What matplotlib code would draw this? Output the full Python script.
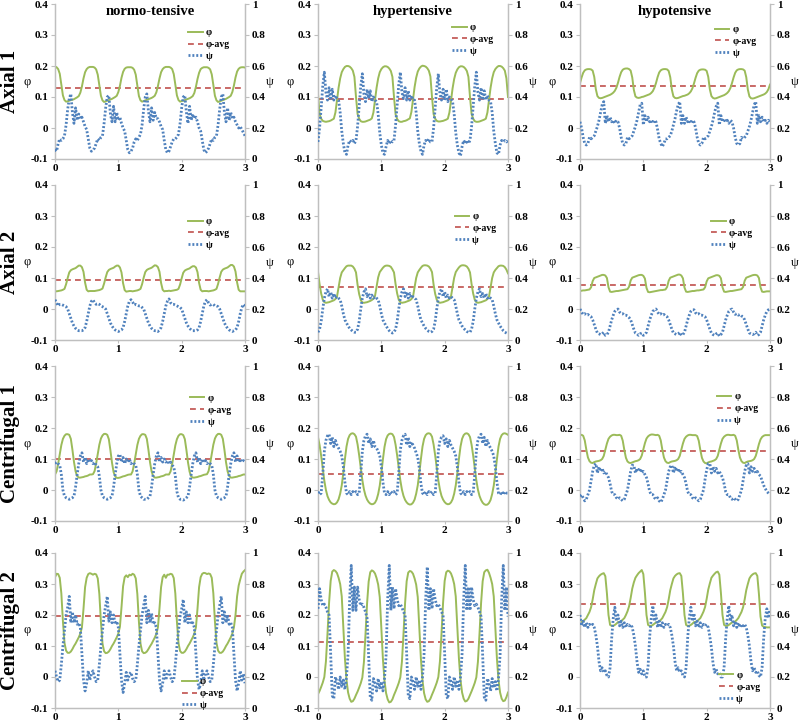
import numpy as np
import matplotlib
matplotlib.use('Agg')
import matplotlib.pyplot as plt

plt.rcParams['font.family'] = ['Liberation Serif', 'DejaVu Serif']
plt.rcParams['font.weight'] = 'bold'

# ---------------- data ----------------
TIME = np.linspace(0, 3, 121)
ROW_LABELS = ['Axial 1', 'Axial 2', 'Centrifugal 1', 'Centrifugal 2']
COL_LABELS = ['normo-tensive', 'hypertensive', 'hypotensive']
PHI_TICKS = [-0.1, 0, 0.1, 0.2, 0.3, 0.4]
PHI_TICK_LABELS = ['-0.1', '0', '0.1', '0.2', '0.3', '0.4']
PSI_TICKS = [0, 0.2, 0.4, 0.6, 0.8, 1.0]
PSI_TICK_LABELS = ['0', '0.2', '0.4', '0.6', '0.8', '1']
X_TICKS = [0, 1, 2, 3]
X_TICK_LABELS = ['0', '1', '2', '3']
LEGEND_LABELS = ['φ', 'φ-avg', 'ψ']

PHI_AVG = [[0.130, 0.094, 0.135],
           [0.093, 0.071, 0.078],
           [0.100, 0.053, 0.125],
           [0.196, 0.112, 0.234]]

A1N_PHI = [
    0.198, 0.196, 0.190, 0.175, 0.140, 0.105, 0.090, 0.085, 0.086, 0.088, 0.090, 0.091, 0.093, 0.096, 0.099, 0.103, 0.114, 0.134, 0.160, 0.180, 0.190, 0.195, 0.197, 0.197,
    0.197, 0.195, 0.189, 0.172, 0.138, 0.104, 0.089, 0.084, 0.086, 0.088, 0.090, 0.092, 0.094, 0.097, 0.100, 0.104, 0.116, 0.136, 0.162, 0.181, 0.191, 0.195, 0.196, 0.196,
    0.196, 0.194, 0.188, 0.172, 0.137, 0.103, 0.089, 0.085, 0.087, 0.089, 0.091, 0.093, 0.095, 0.097, 0.100, 0.104, 0.115, 0.135, 0.160, 0.180, 0.190, 0.195, 0.197, 0.197,
    0.197, 0.195, 0.190, 0.174, 0.140, 0.105, 0.090, 0.085, 0.087, 0.088, 0.090, 0.092, 0.094, 0.096, 0.099, 0.103, 0.113, 0.133, 0.158, 0.178, 0.190, 0.194, 0.196, 0.196,
    0.196, 0.194, 0.189, 0.173, 0.139, 0.104, 0.089, 0.084, 0.086, 0.088, 0.090, 0.092, 0.094, 0.097, 0.100, 0.104, 0.116, 0.137, 0.163, 0.182, 0.191, 0.195, 0.196, 0.196,
    0.195]
A1N_PSI = [
    0.06, 0.05, 0.10, 0.13, 0.12, 0.13, 0.15, 0.22, 0.32, 0.39, 0.42, 0.30, 0.23, 0.33, 0.25, 0.29, 0.26, 0.27, 0.24, 0.21, 0.19, 0.13, 0.07, 0.05,
    0.06, 0.07, 0.10, 0.13, 0.12, 0.14, 0.15, 0.23, 0.33, 0.40, 0.41, 0.29, 0.24, 0.34, 0.24, 0.30, 0.25, 0.27, 0.23, 0.20, 0.18, 0.12, 0.06, 0.04,
    0.05, 0.07, 0.11, 0.13, 0.12, 0.14, 0.16, 0.22, 0.32, 0.40, 0.42, 0.31, 0.24, 0.33, 0.25, 0.30, 0.26, 0.26, 0.24, 0.21, 0.19, 0.12, 0.06, 0.04,
    0.05, 0.08, 0.11, 0.13, 0.13, 0.14, 0.16, 0.23, 0.33, 0.40, 0.41, 0.30, 0.23, 0.34, 0.25, 0.29, 0.26, 0.27, 0.24, 0.20, 0.18, 0.12, 0.06, 0.04,
    0.05, 0.07, 0.10, 0.13, 0.12, 0.14, 0.15, 0.22, 0.32, 0.40, 0.42, 0.30, 0.24, 0.33, 0.25, 0.30, 0.26, 0.27, 0.24, 0.22, 0.20, 0.21, 0.19, 0.17,
    0.15]

A1H_PHI = [
    0.110, 0.045, 0.030, 0.023, 0.021, 0.020, 0.021, 0.022, 0.024, 0.027, 0.030, 0.050, 0.090, 0.130, 0.160, 0.180, 0.190, 0.197, 0.200, 0.200, 0.198, 0.193, 0.185, 0.165,
    0.100, 0.045, 0.030, 0.022, 0.020, 0.020, 0.021, 0.023, 0.025, 0.027, 0.031, 0.050, 0.090, 0.130, 0.160, 0.180, 0.190, 0.196, 0.199, 0.199, 0.197, 0.192, 0.184, 0.165,
    0.100, 0.044, 0.029, 0.022, 0.020, 0.020, 0.022, 0.023, 0.025, 0.028, 0.031, 0.052, 0.092, 0.132, 0.162, 0.182, 0.192, 0.198, 0.201, 0.200, 0.198, 0.193, 0.185, 0.166,
    0.100, 0.045, 0.030, 0.023, 0.021, 0.021, 0.022, 0.023, 0.025, 0.027, 0.030, 0.050, 0.088, 0.128, 0.158, 0.178, 0.189, 0.196, 0.199, 0.199, 0.197, 0.192, 0.184, 0.165,
    0.100, 0.045, 0.030, 0.022, 0.020, 0.020, 0.021, 0.023, 0.025, 0.027, 0.030, 0.050, 0.090, 0.130, 0.160, 0.180, 0.190, 0.196, 0.200, 0.200, 0.198, 0.193, 0.185, 0.160,
    0.100]
A1H_PSI = [
    0.11, 0.20, 0.33, 0.47, 0.56, 0.43, 0.38, 0.46, 0.38, 0.45, 0.38, 0.41, 0.39, 0.38, 0.30, 0.18, 0.10, 0.04, 0.03, 0.09, 0.12, 0.11, 0.12, 0.10,
    0.12, 0.21, 0.34, 0.47, 0.55, 0.42, 0.37, 0.45, 0.39, 0.44, 0.37, 0.40, 0.38, 0.37, 0.29, 0.17, 0.09, 0.04, 0.03, 0.08, 0.12, 0.10, 0.12, 0.11,
    0.12, 0.22, 0.35, 0.48, 0.56, 0.43, 0.39, 0.46, 0.38, 0.44, 0.38, 0.41, 0.38, 0.38, 0.30, 0.18, 0.10, 0.05, 0.03, 0.09, 0.12, 0.11, 0.13, 0.11,
    0.11, 0.20, 0.33, 0.46, 0.55, 0.42, 0.38, 0.45, 0.38, 0.45, 0.37, 0.40, 0.39, 0.37, 0.29, 0.17, 0.09, 0.04, 0.02, 0.08, 0.12, 0.10, 0.12, 0.10,
    0.12, 0.21, 0.34, 0.47, 0.56, 0.43, 0.38, 0.46, 0.38, 0.44, 0.38, 0.41, 0.38, 0.37, 0.30, 0.18, 0.10, 0.04, 0.03, 0.09, 0.12, 0.11, 0.12, 0.11,
    0.12]

A1P_PHI = [
    0.145, 0.163, 0.178, 0.186, 0.189, 0.190, 0.190, 0.189, 0.185, 0.165, 0.125, 0.103, 0.097, 0.096, 0.097, 0.099, 0.101, 0.103, 0.105, 0.107, 0.110, 0.114, 0.120, 0.130,
    0.146, 0.165, 0.180, 0.188, 0.191, 0.192, 0.192, 0.190, 0.185, 0.163, 0.123, 0.102, 0.098, 0.097, 0.098, 0.100, 0.101, 0.103, 0.105, 0.107, 0.109, 0.113, 0.119, 0.130,
    0.145, 0.164, 0.179, 0.186, 0.189, 0.190, 0.190, 0.189, 0.184, 0.164, 0.124, 0.102, 0.097, 0.096, 0.097, 0.099, 0.101, 0.103, 0.104, 0.106, 0.108, 0.112, 0.118, 0.128,
    0.144, 0.162, 0.177, 0.185, 0.188, 0.189, 0.189, 0.188, 0.184, 0.165, 0.125, 0.103, 0.097, 0.095, 0.096, 0.098, 0.100, 0.102, 0.104, 0.106, 0.109, 0.113, 0.119, 0.129,
    0.145, 0.163, 0.178, 0.186, 0.189, 0.190, 0.190, 0.189, 0.185, 0.164, 0.124, 0.102, 0.096, 0.095, 0.096, 0.098, 0.100, 0.102, 0.104, 0.106, 0.108, 0.111, 0.116, 0.125,
    0.140]
A1P_PSI = [
    0.24, 0.20, 0.14, 0.10, 0.09, 0.10, 0.14, 0.13, 0.14, 0.15, 0.18, 0.21, 0.25, 0.30, 0.35, 0.37, 0.23, 0.28, 0.24, 0.27, 0.24, 0.25, 0.23, 0.25,
    0.24, 0.20, 0.14, 0.10, 0.09, 0.10, 0.14, 0.13, 0.14, 0.15, 0.18, 0.21, 0.25, 0.30, 0.35, 0.36, 0.22, 0.28, 0.24, 0.27, 0.24, 0.25, 0.23, 0.25,
    0.24, 0.19, 0.13, 0.10, 0.08, 0.10, 0.13, 0.13, 0.14, 0.15, 0.18, 0.22, 0.26, 0.31, 0.35, 0.37, 0.23, 0.28, 0.23, 0.27, 0.24, 0.25, 0.23, 0.25,
    0.24, 0.20, 0.14, 0.10, 0.09, 0.10, 0.14, 0.13, 0.14, 0.15, 0.18, 0.21, 0.25, 0.30, 0.34, 0.36, 0.22, 0.28, 0.24, 0.26, 0.24, 0.25, 0.23, 0.25,
    0.24, 0.20, 0.14, 0.10, 0.09, 0.10, 0.14, 0.13, 0.14, 0.15, 0.18, 0.21, 0.25, 0.30, 0.35, 0.37, 0.23, 0.28, 0.24, 0.27, 0.24, 0.25, 0.23, 0.25,
    0.24]

A2N_PHI = [
    0.058, 0.057, 0.058, 0.059, 0.060, 0.062, 0.065, 0.080, 0.100, 0.118, 0.125, 0.128, 0.130, 0.132, 0.136, 0.140, 0.140, 0.135, 0.120, 0.085, 0.062, 0.057, 0.058, 0.058,
    0.058, 0.058, 0.059, 0.060, 0.061, 0.063, 0.066, 0.082, 0.102, 0.119, 0.126, 0.129, 0.131, 0.133, 0.137, 0.140, 0.140, 0.134, 0.118, 0.083, 0.061, 0.056, 0.057, 0.058,
    0.058, 0.057, 0.058, 0.059, 0.060, 0.062, 0.065, 0.080, 0.101, 0.119, 0.126, 0.129, 0.131, 0.133, 0.137, 0.141, 0.140, 0.135, 0.120, 0.084, 0.062, 0.057, 0.058, 0.058,
    0.059, 0.058, 0.059, 0.060, 0.061, 0.062, 0.065, 0.079, 0.099, 0.117, 0.124, 0.127, 0.129, 0.131, 0.135, 0.138, 0.138, 0.134, 0.119, 0.084, 0.062, 0.057, 0.058, 0.058,
    0.058, 0.057, 0.058, 0.059, 0.060, 0.062, 0.065, 0.081, 0.102, 0.120, 0.127, 0.130, 0.132, 0.134, 0.138, 0.142, 0.142, 0.137, 0.121, 0.086, 0.062, 0.057, 0.057, 0.057,
    0.057]
A2N_PSI = [
    0.26, 0.24, 0.22, 0.23, 0.23, 0.225, 0.22, 0.215, 0.20, 0.17, 0.14, 0.11, 0.09, 0.075, 0.065, 0.06, 0.06, 0.06, 0.065, 0.08, 0.12, 0.17, 0.22, 0.25,
    0.26, 0.24, 0.23, 0.235, 0.23, 0.22, 0.215, 0.21, 0.20, 0.17, 0.14, 0.11, 0.09, 0.075, 0.065, 0.06, 0.055, 0.06, 0.065, 0.08, 0.12, 0.17, 0.22, 0.25,
    0.26, 0.245, 0.225, 0.23, 0.225, 0.22, 0.22, 0.21, 0.20, 0.17, 0.14, 0.11, 0.09, 0.075, 0.065, 0.06, 0.06, 0.055, 0.065, 0.08, 0.12, 0.17, 0.22, 0.25,
    0.265, 0.24, 0.23, 0.23, 0.225, 0.22, 0.215, 0.21, 0.20, 0.17, 0.14, 0.11, 0.09, 0.075, 0.065, 0.06, 0.06, 0.06, 0.065, 0.08, 0.12, 0.17, 0.22, 0.25,
    0.26, 0.24, 0.225, 0.23, 0.23, 0.22, 0.22, 0.215, 0.20, 0.17, 0.14, 0.11, 0.09, 0.075, 0.065, 0.06, 0.055, 0.06, 0.065, 0.08, 0.12, 0.17, 0.21, 0.23,
    0.22]

A2H_PHI = [
    0.120, 0.080, 0.050, 0.030, 0.022, 0.020, 0.021, 0.022, 0.024, 0.026, 0.028, 0.032, 0.040, 0.070, 0.100, 0.118, 0.125, 0.132, 0.138, 0.140, 0.140, 0.140, 0.137, 0.130,
    0.118, 0.078, 0.048, 0.029, 0.021, 0.020, 0.021, 0.022, 0.024, 0.026, 0.029, 0.033, 0.042, 0.072, 0.102, 0.119, 0.126, 0.133, 0.138, 0.140, 0.140, 0.139, 0.136, 0.128,
    0.118, 0.080, 0.050, 0.030, 0.022, 0.020, 0.021, 0.022, 0.024, 0.026, 0.028, 0.032, 0.040, 0.070, 0.100, 0.118, 0.126, 0.133, 0.139, 0.141, 0.141, 0.140, 0.137, 0.130,
    0.119, 0.079, 0.049, 0.030, 0.022, 0.020, 0.021, 0.022, 0.024, 0.026, 0.028, 0.032, 0.041, 0.071, 0.101, 0.119, 0.127, 0.134, 0.139, 0.141, 0.141, 0.140, 0.137, 0.130,
    0.118, 0.080, 0.050, 0.030, 0.022, 0.020, 0.021, 0.022, 0.024, 0.026, 0.028, 0.032, 0.040, 0.070, 0.100, 0.118, 0.126, 0.132, 0.138, 0.140, 0.140, 0.139, 0.135, 0.127,
    0.115]
A2H_PSI = [
    0.05, 0.07, 0.12, 0.20, 0.27, 0.31, 0.33, 0.28, 0.31, 0.27, 0.30, 0.27, 0.28, 0.27, 0.26, 0.22, 0.17, 0.13, 0.11, 0.09, 0.075, 0.065, 0.055, 0.05,
    0.05, 0.07, 0.12, 0.20, 0.27, 0.31, 0.33, 0.28, 0.30, 0.27, 0.29, 0.27, 0.28, 0.27, 0.26, 0.22, 0.17, 0.13, 0.11, 0.09, 0.075, 0.06, 0.05, 0.045,
    0.05, 0.07, 0.12, 0.20, 0.27, 0.31, 0.33, 0.28, 0.31, 0.27, 0.30, 0.27, 0.28, 0.27, 0.26, 0.22, 0.17, 0.13, 0.11, 0.09, 0.075, 0.065, 0.055, 0.05,
    0.055, 0.07, 0.12, 0.20, 0.27, 0.31, 0.33, 0.28, 0.31, 0.27, 0.29, 0.27, 0.28, 0.27, 0.26, 0.22, 0.17, 0.13, 0.11, 0.09, 0.075, 0.065, 0.055, 0.05,
    0.05, 0.07, 0.12, 0.20, 0.27, 0.31, 0.33, 0.28, 0.30, 0.27, 0.30, 0.27, 0.28, 0.27, 0.26, 0.22, 0.17, 0.13, 0.11, 0.09, 0.075, 0.06, 0.05, 0.045,
    0.04]

A2P_PHI = [
    0.058, 0.059, 0.060, 0.060, 0.061, 0.062, 0.063, 0.070, 0.090, 0.100, 0.102, 0.104, 0.106, 0.108, 0.110, 0.110, 0.108, 0.100, 0.070, 0.056, 0.055, 0.056, 0.057, 0.058,
    0.058, 0.059, 0.060, 0.061, 0.062, 0.063, 0.064, 0.072, 0.092, 0.101, 0.103, 0.105, 0.107, 0.109, 0.110, 0.110, 0.107, 0.098, 0.068, 0.055, 0.054, 0.055, 0.056, 0.057,
    0.058, 0.059, 0.060, 0.061, 0.061, 0.062, 0.063, 0.071, 0.091, 0.101, 0.103, 0.105, 0.107, 0.109, 0.111, 0.111, 0.108, 0.099, 0.069, 0.056, 0.055, 0.056, 0.057, 0.058,
    0.058, 0.059, 0.060, 0.060, 0.061, 0.062, 0.063, 0.070, 0.089, 0.099, 0.101, 0.103, 0.105, 0.107, 0.109, 0.109, 0.107, 0.099, 0.070, 0.056, 0.055, 0.056, 0.057, 0.058,
    0.058, 0.059, 0.060, 0.061, 0.062, 0.063, 0.064, 0.071, 0.091, 0.101, 0.103, 0.105, 0.107, 0.109, 0.110, 0.110, 0.108, 0.100, 0.070, 0.056, 0.055, 0.056, 0.057, 0.057,
    0.057]
A2P_PSI = [
    0.20, 0.18, 0.165, 0.17, 0.16, 0.165, 0.155, 0.15, 0.13, 0.10, 0.07, 0.045, 0.04, 0.035, 0.04, 0.05, 0.03, 0.035, 0.05, 0.09, 0.13, 0.16, 0.185, 0.195,
    0.20, 0.18, 0.17, 0.17, 0.16, 0.16, 0.155, 0.145, 0.13, 0.10, 0.07, 0.045, 0.04, 0.03, 0.04, 0.045, 0.03, 0.035, 0.05, 0.09, 0.13, 0.16, 0.185, 0.195,
    0.20, 0.18, 0.165, 0.17, 0.16, 0.165, 0.155, 0.15, 0.13, 0.10, 0.07, 0.045, 0.04, 0.035, 0.04, 0.05, 0.03, 0.035, 0.05, 0.09, 0.13, 0.16, 0.185, 0.195,
    0.195, 0.175, 0.165, 0.17, 0.16, 0.16, 0.155, 0.15, 0.13, 0.10, 0.07, 0.045, 0.035, 0.03, 0.04, 0.045, 0.025, 0.035, 0.05, 0.09, 0.13, 0.16, 0.185, 0.195,
    0.20, 0.18, 0.165, 0.17, 0.16, 0.165, 0.155, 0.15, 0.13, 0.10, 0.07, 0.045, 0.04, 0.035, 0.04, 0.05, 0.03, 0.035, 0.05, 0.09, 0.13, 0.16, 0.185, 0.195,
    0.20]

C1N_PHI = [
    0.050, 0.060, 0.085, 0.115, 0.145, 0.165, 0.175, 0.180, 0.180, 0.178, 0.165, 0.130, 0.090, 0.060, 0.045, 0.040, 0.040, 0.041, 0.042, 0.044, 0.045, 0.047, 0.050, 0.050,
    0.051, 0.061, 0.086, 0.116, 0.146, 0.166, 0.176, 0.181, 0.181, 0.178, 0.164, 0.128, 0.088, 0.058, 0.044, 0.039, 0.039, 0.040, 0.042, 0.044, 0.045, 0.047, 0.049, 0.050,
    0.050, 0.060, 0.085, 0.115, 0.145, 0.165, 0.175, 0.180, 0.180, 0.178, 0.165, 0.130, 0.090, 0.060, 0.045, 0.040, 0.040, 0.041, 0.042, 0.044, 0.045, 0.047, 0.050, 0.050,
    0.050, 0.060, 0.084, 0.114, 0.144, 0.164, 0.175, 0.180, 0.180, 0.177, 0.164, 0.129, 0.089, 0.059, 0.044, 0.040, 0.040, 0.041, 0.042, 0.044, 0.045, 0.047, 0.049, 0.050,
    0.051, 0.061, 0.086, 0.116, 0.146, 0.166, 0.176, 0.181, 0.181, 0.178, 0.165, 0.130, 0.090, 0.060, 0.045, 0.040, 0.040, 0.041, 0.042, 0.043, 0.045, 0.046, 0.048, 0.050,
    0.050]
C1N_PSI = [
    0.37, 0.38, 0.37, 0.36, 0.30, 0.20, 0.16, 0.15, 0.145, 0.14, 0.145, 0.15, 0.16, 0.22, 0.30, 0.37, 0.42, 0.44, 0.38, 0.41, 0.37, 0.40, 0.38, 0.39,
    0.37, 0.38, 0.36, 0.35, 0.29, 0.20, 0.16, 0.15, 0.145, 0.14, 0.145, 0.15, 0.16, 0.22, 0.30, 0.37, 0.42, 0.43, 0.38, 0.41, 0.37, 0.40, 0.38, 0.40,
    0.37, 0.38, 0.37, 0.36, 0.30, 0.20, 0.16, 0.15, 0.14, 0.14, 0.14, 0.15, 0.16, 0.22, 0.30, 0.37, 0.42, 0.44, 0.38, 0.41, 0.38, 0.40, 0.38, 0.39,
    0.37, 0.38, 0.36, 0.35, 0.29, 0.19, 0.15, 0.14, 0.14, 0.135, 0.14, 0.15, 0.16, 0.22, 0.30, 0.37, 0.42, 0.44, 0.38, 0.41, 0.37, 0.40, 0.38, 0.39,
    0.37, 0.38, 0.37, 0.36, 0.30, 0.20, 0.16, 0.15, 0.145, 0.14, 0.145, 0.15, 0.16, 0.22, 0.30, 0.37, 0.42, 0.44, 0.38, 0.42, 0.38, 0.40, 0.38, 0.39,
    0.38]

C1H_PHI = [
    0.170, 0.145, 0.110, 0.070, 0.030, 0.000, -0.020, -0.032, -0.040, -0.044, -0.046, -0.045, -0.040, -0.030, -0.012, 0.015, 0.055, 0.100, 0.140, 0.165, 0.177, 0.182, 0.183, 0.180,
    0.172, 0.147, 0.112, 0.072, 0.032, 0.002, -0.018, -0.031, -0.039, -0.044, -0.046, -0.045, -0.041, -0.031, -0.013, 0.014, 0.054, 0.099, 0.139, 0.164, 0.176, 0.181, 0.182, 0.180,
    0.171, 0.146, 0.111, 0.071, 0.031, 0.001, -0.019, -0.032, -0.040, -0.045, -0.047, -0.046, -0.041, -0.031, -0.012, 0.015, 0.055, 0.100, 0.140, 0.165, 0.177, 0.182, 0.183, 0.181,
    0.172, 0.147, 0.112, 0.071, 0.031, 0.001, -0.019, -0.031, -0.039, -0.044, -0.046, -0.045, -0.040, -0.030, -0.012, 0.015, 0.055, 0.100, 0.140, 0.165, 0.177, 0.182, 0.183, 0.180,
    0.171, 0.146, 0.111, 0.071, 0.031, 0.001, -0.019, -0.032, -0.041, -0.046, -0.048, -0.047, -0.042, -0.032, -0.013, 0.014, 0.054, 0.099, 0.140, 0.165, 0.177, 0.182, 0.183, 0.181,
    0.178]
C1H_PSI = [
    0.19, 0.17, 0.18, 0.30, 0.45, 0.52, 0.55, 0.56, 0.50, 0.54, 0.48, 0.52, 0.49, 0.47, 0.45, 0.42, 0.35, 0.25, 0.18, 0.17, 0.19, 0.17, 0.19, 0.18,
    0.19, 0.17, 0.18, 0.30, 0.45, 0.52, 0.55, 0.56, 0.50, 0.53, 0.48, 0.52, 0.48, 0.47, 0.45, 0.42, 0.35, 0.25, 0.18, 0.17, 0.19, 0.17, 0.19, 0.18,
    0.19, 0.17, 0.18, 0.31, 0.46, 0.52, 0.55, 0.56, 0.49, 0.54, 0.48, 0.51, 0.49, 0.47, 0.44, 0.41, 0.34, 0.24, 0.18, 0.17, 0.19, 0.17, 0.19, 0.18,
    0.19, 0.17, 0.18, 0.30, 0.45, 0.52, 0.54, 0.55, 0.50, 0.53, 0.48, 0.52, 0.49, 0.47, 0.45, 0.42, 0.35, 0.25, 0.18, 0.17, 0.19, 0.17, 0.19, 0.18,
    0.19, 0.17, 0.18, 0.30, 0.45, 0.52, 0.55, 0.56, 0.50, 0.54, 0.48, 0.52, 0.49, 0.47, 0.45, 0.42, 0.35, 0.25, 0.18, 0.17, 0.19, 0.17, 0.19, 0.18,
    0.18]

C1P_PHI = [
    0.177, 0.178, 0.175, 0.160, 0.130, 0.105, 0.093, 0.088, 0.087, 0.090, 0.092, 0.093, 0.094, 0.096, 0.100, 0.110, 0.130, 0.150, 0.165, 0.172, 0.176, 0.178, 0.178, 0.177,
    0.177, 0.178, 0.175, 0.159, 0.129, 0.104, 0.092, 0.088, 0.087, 0.089, 0.091, 0.093, 0.094, 0.096, 0.100, 0.111, 0.131, 0.151, 0.166, 0.173, 0.177, 0.179, 0.179, 0.178,
    0.177, 0.178, 0.175, 0.160, 0.130, 0.105, 0.093, 0.088, 0.087, 0.090, 0.092, 0.093, 0.094, 0.096, 0.100, 0.110, 0.130, 0.150, 0.165, 0.172, 0.176, 0.178, 0.178, 0.177,
    0.177, 0.177, 0.174, 0.159, 0.129, 0.104, 0.092, 0.087, 0.086, 0.089, 0.091, 0.092, 0.094, 0.096, 0.100, 0.110, 0.130, 0.150, 0.165, 0.172, 0.176, 0.178, 0.178, 0.177,
    0.177, 0.178, 0.175, 0.160, 0.130, 0.105, 0.093, 0.088, 0.087, 0.090, 0.092, 0.093, 0.094, 0.096, 0.100, 0.110, 0.128, 0.148, 0.163, 0.171, 0.175, 0.177, 0.177, 0.177,
    0.177]
C1P_PSI = [
    0.16, 0.17, 0.15, 0.13, 0.14, 0.17, 0.20, 0.26, 0.32, 0.36, 0.37, 0.31, 0.35, 0.32, 0.34, 0.31, 0.32, 0.30, 0.28, 0.24, 0.19, 0.17, 0.17, 0.15,
    0.14, 0.15, 0.14, 0.13, 0.14, 0.17, 0.20, 0.26, 0.32, 0.36, 0.36, 0.31, 0.34, 0.32, 0.34, 0.31, 0.32, 0.30, 0.28, 0.24, 0.19, 0.17, 0.17, 0.15,
    0.14, 0.15, 0.13, 0.12, 0.14, 0.17, 0.20, 0.26, 0.32, 0.35, 0.36, 0.31, 0.35, 0.32, 0.34, 0.31, 0.32, 0.30, 0.28, 0.24, 0.19, 0.17, 0.17, 0.15,
    0.14, 0.15, 0.14, 0.13, 0.14, 0.17, 0.20, 0.27, 0.33, 0.37, 0.37, 0.31, 0.35, 0.32, 0.34, 0.31, 0.32, 0.30, 0.28, 0.24, 0.19, 0.17, 0.17, 0.15,
    0.14, 0.15, 0.14, 0.13, 0.14, 0.17, 0.20, 0.26, 0.32, 0.36, 0.37, 0.31, 0.35, 0.32, 0.34, 0.31, 0.32, 0.30, 0.29, 0.26, 0.23, 0.21, 0.19, 0.18,
    0.17]

C2N_PHI = [
    0.322, 0.333, 0.332, 0.320, 0.270, 0.180, 0.110, 0.085, 0.078, 0.078, 0.082, 0.090, 0.100, 0.108, 0.118, 0.128, 0.140, 0.160, 0.220, 0.290, 0.320, 0.332, 0.335, 0.333,
    0.330, 0.333, 0.331, 0.318, 0.268, 0.178, 0.108, 0.083, 0.077, 0.078, 0.082, 0.090, 0.100, 0.108, 0.118, 0.128, 0.140, 0.162, 0.225, 0.293, 0.322, 0.328, 0.322, 0.330,
    0.328, 0.333, 0.330, 0.318, 0.268, 0.178, 0.108, 0.083, 0.077, 0.078, 0.082, 0.090, 0.099, 0.107, 0.117, 0.127, 0.139, 0.160, 0.222, 0.290, 0.322, 0.330, 0.320, 0.330,
    0.330, 0.333, 0.331, 0.319, 0.269, 0.179, 0.109, 0.084, 0.078, 0.078, 0.082, 0.090, 0.100, 0.108, 0.118, 0.128, 0.140, 0.160, 0.220, 0.290, 0.322, 0.333, 0.336, 0.335,
    0.332, 0.334, 0.332, 0.320, 0.270, 0.180, 0.110, 0.085, 0.078, 0.078, 0.082, 0.090, 0.100, 0.108, 0.118, 0.128, 0.140, 0.160, 0.200, 0.260, 0.295, 0.315, 0.333, 0.340,
    0.345]
C2N_PSI = [
    0.24, 0.20, 0.17, 0.18, 0.28, 0.40, 0.50, 0.60, 0.65, 0.72, 0.55, 0.62, 0.55, 0.60, 0.54, 0.55, 0.52, 0.35, 0.18, 0.11, 0.16, 0.24, 0.18, 0.22,
    0.24, 0.20, 0.17, 0.18, 0.28, 0.40, 0.50, 0.60, 0.66, 0.72, 0.56, 0.62, 0.55, 0.60, 0.54, 0.56, 0.52, 0.35, 0.18, 0.10, 0.16, 0.23, 0.18, 0.22,
    0.23, 0.19, 0.17, 0.18, 0.28, 0.40, 0.50, 0.60, 0.66, 0.72, 0.55, 0.63, 0.55, 0.61, 0.54, 0.55, 0.52, 0.35, 0.18, 0.11, 0.16, 0.24, 0.18, 0.22,
    0.24, 0.20, 0.17, 0.18, 0.28, 0.40, 0.50, 0.59, 0.64, 0.70, 0.55, 0.62, 0.55, 0.60, 0.54, 0.55, 0.52, 0.35, 0.18, 0.12, 0.16, 0.24, 0.18, 0.22,
    0.24, 0.20, 0.17, 0.18, 0.28, 0.40, 0.50, 0.60, 0.66, 0.72, 0.55, 0.62, 0.55, 0.60, 0.54, 0.55, 0.52, 0.35, 0.18, 0.11, 0.16, 0.24, 0.18, 0.22,
    0.16]

C2H_PHI = [
    -0.055, -0.045, -0.032, -0.018, 0.000, 0.050, 0.140, 0.240, 0.310, 0.340, 0.345, 0.342, 0.335, 0.320, 0.300, 0.260, 0.160, 0.060, -0.010, -0.050, -0.070, -0.080, -0.078, -0.070,
    -0.058, -0.047, -0.034, -0.020, -0.002, 0.048, 0.138, 0.238, 0.308, 0.338, 0.344, 0.341, 0.334, 0.319, 0.298, 0.258, 0.158, 0.058, -0.012, -0.052, -0.072, -0.082, -0.080, -0.072,
    -0.058, -0.046, -0.033, -0.019, -0.001, 0.049, 0.139, 0.239, 0.309, 0.337, 0.342, 0.340, 0.333, 0.318, 0.298, 0.258, 0.158, 0.058, -0.012, -0.052, -0.072, -0.080, -0.078, -0.070,
    -0.057, -0.045, -0.032, -0.018, 0.000, 0.050, 0.140, 0.240, 0.310, 0.338, 0.343, 0.341, 0.334, 0.320, 0.300, 0.260, 0.160, 0.060, -0.010, -0.050, -0.070, -0.079, -0.077, -0.070,
    -0.058, -0.046, -0.033, -0.019, -0.001, 0.049, 0.139, 0.239, 0.309, 0.338, 0.344, 0.346, 0.336, 0.320, 0.300, 0.260, 0.160, 0.060, -0.010, -0.050, -0.070, -0.078, -0.076, -0.065,
    -0.050]
C2H_PSI = [
    0.64, 0.77, 0.70, 0.66, 0.67, 0.65, 0.62, 0.60, 0.35, 0.08, 0.06, 0.20, 0.17, 0.12, 0.20, 0.14, 0.18, 0.12, 0.20, 0.35, 0.70, 0.92, 0.63, 0.78,
    0.63, 0.78, 0.70, 0.66, 0.67, 0.65, 0.62, 0.58, 0.33, 0.07, 0.05, 0.19, 0.16, 0.11, 0.19, 0.13, 0.17, 0.11, 0.19, 0.34, 0.70, 0.92, 0.63, 0.78,
    0.64, 0.77, 0.70, 0.66, 0.67, 0.65, 0.62, 0.60, 0.35, 0.08, 0.06, 0.20, 0.17, 0.12, 0.20, 0.14, 0.18, 0.12, 0.20, 0.35, 0.70, 0.91, 0.63, 0.77,
    0.64, 0.77, 0.70, 0.66, 0.67, 0.65, 0.62, 0.60, 0.35, 0.08, 0.06, 0.20, 0.17, 0.12, 0.20, 0.14, 0.18, 0.12, 0.20, 0.35, 0.70, 0.92, 0.63, 0.78,
    0.63, 0.78, 0.70, 0.66, 0.67, 0.65, 0.62, 0.59, 0.34, 0.07, 0.05, 0.19, 0.16, 0.11, 0.19, 0.13, 0.17, 0.11, 0.19, 0.34, 0.70, 0.92, 0.63, 0.78,
    0.59]

C2P_PHI = [
    0.177, 0.178, 0.180, 0.185, 0.190, 0.200, 0.210, 0.225, 0.250, 0.280, 0.300, 0.318, 0.325, 0.330, 0.333, 0.335, 0.325, 0.270, 0.200, 0.168, 0.165, 0.165, 0.168, 0.172,
    0.177, 0.178, 0.180, 0.185, 0.190, 0.200, 0.212, 0.228, 0.255, 0.285, 0.305, 0.320, 0.328, 0.335, 0.340, 0.345, 0.332, 0.272, 0.200, 0.168, 0.165, 0.165, 0.168, 0.172,
    0.176, 0.177, 0.179, 0.184, 0.190, 0.200, 0.210, 0.225, 0.250, 0.280, 0.300, 0.318, 0.326, 0.331, 0.334, 0.335, 0.326, 0.270, 0.200, 0.168, 0.165, 0.165, 0.168, 0.172,
    0.177, 0.178, 0.180, 0.185, 0.190, 0.200, 0.211, 0.226, 0.252, 0.282, 0.302, 0.320, 0.327, 0.333, 0.338, 0.340, 0.330, 0.271, 0.200, 0.168, 0.165, 0.165, 0.168, 0.172,
    0.176, 0.177, 0.179, 0.184, 0.190, 0.200, 0.210, 0.225, 0.250, 0.280, 0.300, 0.318, 0.326, 0.331, 0.334, 0.335, 0.326, 0.268, 0.195, 0.166, 0.162, 0.161, 0.160, 0.160,
    0.160]
C2P_PSI = [
    0.60, 0.53, 0.56, 0.52, 0.55, 0.52, 0.54, 0.53, 0.54, 0.52, 0.47, 0.40, 0.30, 0.24, 0.26, 0.23, 0.24, 0.21, 0.20, 0.26, 0.45, 0.58, 0.65, 0.56,
    0.60, 0.53, 0.56, 0.52, 0.55, 0.52, 0.54, 0.53, 0.54, 0.52, 0.47, 0.40, 0.30, 0.23, 0.25, 0.22, 0.24, 0.20, 0.20, 0.27, 0.46, 0.58, 0.66, 0.56,
    0.60, 0.52, 0.56, 0.52, 0.55, 0.52, 0.54, 0.53, 0.54, 0.52, 0.47, 0.40, 0.30, 0.24, 0.26, 0.23, 0.24, 0.21, 0.20, 0.26, 0.45, 0.58, 0.65, 0.56,
    0.61, 0.53, 0.56, 0.52, 0.55, 0.52, 0.54, 0.53, 0.54, 0.52, 0.46, 0.39, 0.29, 0.23, 0.25, 0.22, 0.23, 0.20, 0.20, 0.26, 0.45, 0.58, 0.66, 0.56,
    0.60, 0.53, 0.56, 0.52, 0.55, 0.52, 0.54, 0.53, 0.54, 0.52, 0.47, 0.40, 0.30, 0.24, 0.26, 0.23, 0.24, 0.21, 0.20, 0.26, 0.45, 0.58, 0.64, 0.58,
    0.63]

PHI_SERIES = [[A1N_PHI, A1H_PHI, A1P_PHI],
              [A2N_PHI, A2H_PHI, A2P_PHI],
              [C1N_PHI, C1H_PHI, C1P_PHI],
              [C2N_PHI, C2H_PHI, C2P_PHI]]
PSI_SERIES = [[A1N_PSI, A1H_PSI, A1P_PSI],
              [A2N_PSI, A2H_PSI, A2P_PSI],
              [C1N_PSI, C1H_PSI, C1P_PSI],
              [C2N_PSI, C2H_PSI, C2P_PSI]]

# ---------------- styling / layout ----------------
GREEN = '#9BBB59'
RED = '#C0504D'
BLUE = '#4F81BD'
SPINE = '#BFBFBF'

W, H = 800, 725
col_left = [55, 318, 580]
row_top = [4, 185, 366, 553]
aw, ah = 190, 155

legend_pos = {(0, 0): (0.70, 0.845), (0, 1): (0.705, 0.878), (0, 2): (0.71, 0.865),
              (1, 0): (0.70, 0.794), (1, 1): (0.72, 0.826), (1, 2): (0.69, 0.794),
              (2, 0): (0.71, 0.820), (2, 2): (0.72, 0.830),
              (3, 0): (0.67, 0.200), (3, 2): (0.73, 0.240)}

fig = plt.figure(figsize=(W / 100, H / 100), dpi=100)

for r in range(4):
    for c in range(3):
        rect = [col_left[c] / W, 1 - (row_top[r] + ah) / H, aw / W, ah / H]
        ax = fig.add_axes(rect)
        ax2 = ax.twinx()
        lphi, = ax.plot(TIME, PHI_SERIES[r][c], color=GREEN, lw=1.4, zorder=3)
        lavg, = ax.plot([TIME[0], TIME[-1]], [PHI_AVG[r][c], PHI_AVG[r][c]],
                        color=RED, lw=1.2, linestyle=(0, (3.5, 2.5)), zorder=2)
        lpsi, = ax2.plot(TIME, PSI_SERIES[r][c], color=BLUE, lw=2.0,
                         linestyle=(0, (0.7, 0.7)), zorder=3)
        ax.set_xlim(0, 3)
        ax.set_ylim(-0.1, 0.4)
        ax2.set_ylim(0, 1)
        ax.set_xticks(X_TICKS)
        ax.set_xticklabels(X_TICK_LABELS)
        ax.set_yticks(PHI_TICKS)
        ax.set_yticklabels(PHI_TICK_LABELS)
        ax2.set_yticks(PSI_TICKS)
        ax2.set_yticklabels(PSI_TICK_LABELS)
        for a in (ax, ax2):
            a.tick_params(axis='y', direction='out', length=3, width=0.8, color=SPINE,
                          labelsize=8, pad=2, labelcolor='black')
            a.tick_params(axis='x', direction='out', length=2.5, width=0.8, color=SPINE,
                          labelsize=8, pad=1, labelcolor='black')
            a.spines['top'].set_visible(False)
            for s in ('left', 'right', 'bottom'):
                a.spines[s].set_color(SPINE)
                a.spines[s].set_linewidth(0.9)
            a.patch.set_visible(False)
        ax.set_ylabel('φ', rotation=0, fontsize=9, va='center', ha='center')
        ax.yaxis.set_label_coords(-28 / aw, 0.5)
        ax2.set_ylabel('ψ', rotation=0, fontsize=9, va='center', ha='center')
        ax2.yaxis.set_label_coords(1 + 25 / aw, 0.5)
        if r == 0:
            ax.text(0.5, 0.995, COL_LABELS[c], transform=ax.transAxes,
                    ha='center', va='top', fontsize=10.5, fontweight='bold')
        if (r, c) in legend_pos:
            lx, ly = legend_pos[(r, c)]
            ax2.legend([lphi, lavg, lpsi], LEGEND_LABELS, loc='upper left',
                       bbox_to_anchor=(lx, ly), bbox_transform=ax.transAxes,
                       frameon=False, fontsize=7, handlelength=1.5,
                       handletextpad=0.3, labelspacing=0.3, borderpad=0,
                       borderaxespad=0)
    yc = 1 - (row_top[r] + ah / 2) / H
    fig.text(0.0125, yc, ROW_LABELS[r], rotation=90, ha='center', va='center',
             fontsize=15, fontweight='bold')

fig.savefig('out.png', dpi=100)
